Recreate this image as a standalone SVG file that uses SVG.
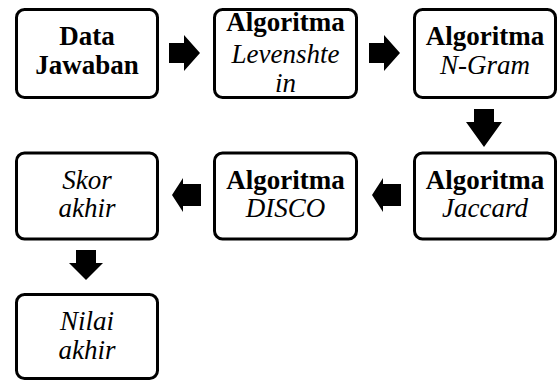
<svg xmlns="http://www.w3.org/2000/svg" width="558" height="381" viewBox="0 0 558 381">
<style>
.box{fill:#fff;stroke:#000;stroke-width:3}
.arr{fill:#000;stroke:none}
text{font-family:"Liberation Serif","Times New Roman",serif;font-size:27px;fill:#000;text-anchor:middle}
.b{font-weight:bold}
.i{font-style:italic}
</style>
<rect width="558" height="381" fill="#fff"/>
<g id="connectors">
<polygon class="arr" points="169,43 184,43 184,35 200,53 184,71 184,63 169,63"/>
<polygon class="arr" points="369,43 384,43 384,35 400,53 384,71 384,63 369,63"/>
<polygon class="arr" points="474,109 494,109 494,122 502,122 484,147 466,122 474,122"/>
<polygon class="arr" points="201,184 183,184 183,178 172,195 183,212 183,206 201,206"/>
<polygon class="arr" points="401,184 383,184 383,178 372,195 383,212 383,206 401,206"/>
<polygon class="arr" points="76,250 96,250 96,263 103,263 86,280 69,263 76,263"/>
</g>
<g id="data-jawaban">
<rect class="box" x="16.5" y="9.5" width="141" height="88" rx="8"/>
<text class="b" x="87" y="45">Data</text>
<text class="b" x="87" y="74">Jawaban</text>
</g>
<g id="levenshtein">
<rect class="box" x="214.5" y="9.5" width="142" height="88" rx="8"/>
<text class="b" x="285.5" y="31">Algoritma</text>
<text class="i" x="285.5" y="63">Levenshte</text>
<text class="i" x="285.5" y="92">in</text>
</g>
<g id="ngram">
<rect class="box" x="414.5" y="9.5" width="141" height="88" rx="8"/>
<text class="b" x="485" y="45">Algoritma</text>
<text class="i" x="485" y="74">N-Gram</text>
</g>
<g id="jaccard">
<rect class="box" x="414.5" y="153" width="141" height="86" rx="8"/>
<text class="b" x="485" y="189">Algoritma</text>
<text class="i" x="485" y="217">Jaccard</text>
</g>
<g id="disco">
<rect class="box" x="214.5" y="153" width="142" height="86" rx="8"/>
<text class="b" x="285.5" y="189">Algoritma</text>
<text class="i" x="285.5" y="217">DISCO</text>
</g>
<g id="skor-akhir">
<rect class="box" x="16.5" y="153" width="141" height="86" rx="8"/>
<text class="i" x="87" y="189">Skor</text>
<text class="i" x="87" y="217">akhir</text>
</g>
<g id="nilai-akhir">
<rect class="box" x="16.5" y="294.5" width="141" height="84" rx="8"/>
<text class="i" x="87" y="330">Nilai</text>
<text class="i" x="87" y="359">akhir</text>
</g>
</svg>
